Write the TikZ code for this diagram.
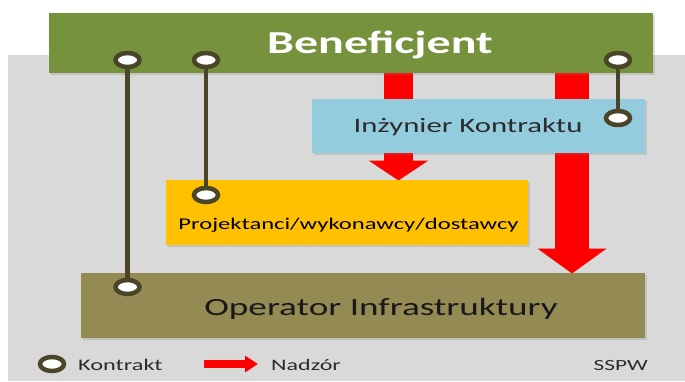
\documentclass[tikz,border=0pt]{standalone}
\usepackage{fontspec}
\setmainfont{Carlito}
\newfontfamily\widefont[FakeStretch=1.5]{Carlito}
\usetikzlibrary{shapes.geometric,arrows.meta,shadows}

\definecolor{bgrey}{HTML}{D9D9D9}
\definecolor{benefgreen}{HTML}{76923C}
\definecolor{engblue}{HTML}{93CDDD}
\definecolor{contryellow}{HTML}{FFC000}
\definecolor{operolive}{HTML}{948A54}
\definecolor{ringbrown}{HTML}{4A4528}
\definecolor{supred}{HTML}{FF0000}
\definecolor{labelgrey}{HTML}{2B2B2B}

\tikzset{
  box/.style={draw=none, inner sep=0, anchor=north west,
    drop shadow={shadow xshift=2pt, shadow yshift=-2pt, opacity=0.25}},
  ring/.style={ellipse, draw=ringbrown, line width=4.5pt, fill=white,
    minimum width=24pt, minimum height=14pt, inner sep=0},
  contract/.style={draw=ringbrown, line width=4.5pt},
  supervision/.style={draw=supred, line width=#1},
  boxtext/.style={inner sep=0, anchor=base, font=\widefont},
}

\begin{document}
\begin{tikzpicture}[x=1pt,y=-1pt]
  \useasboundingbox (0,0) rectangle (685,381);
  \fill[white] (0,0) rectangle (685,381);
  % grey panel
  \fill[bgrey] (8,55) rectangle (685,381);

  % supervision arrows (lie under the engineer box)
  \coordinate (a1s) at (398.5,72);
  \coordinate (a1e) at (398.5,180.5);
  \coordinate (a2s) at (572,72);
  \coordinate (a2e) at (572,273.5);
  \draw[supervision=29pt, -{Triangle[width=59pt,length=20pt]}] (a1s) -- (a1e);
  \draw[supervision=34pt, -{Triangle[width=68pt,length=25pt]}] (a2s) -- (a2e);

  % boxes
  \node[box, fill=benefgreen, minimum width=604pt, minimum height=60pt] (ben) at (49,12.5) {};
  \node[box, fill=engblue, minimum width=333pt, minimum height=54pt] (eng) at (312,99) {};
  \node[box, fill=contryellow, minimum width=362pt, minimum height=65pt] (yel) at (166,180) {};
  \node[box, fill=operolive, minimum width=564pt, minimum height=65pt] (ope) at (81,273) {};

  % box labels
  \node[boxtext, text=white, font=\widefont\bfseries\fontsize{32}{36}\selectfont] (tben) at (380,53) {Beneficjent};
  \node[boxtext, text=labelgrey, font=\widefont\fontsize{20.5}{24}\selectfont] (teng) at (468,132.5) {Inżynier Kontraktu};
  \node[boxtext, text=black, font=\widefont\fontsize{16.4}{20}\selectfont] (tyel) at (348.5,229) {Projektanci/wykonawcy/dostawcy};
  \node[boxtext, text=black!90, font=\widefont\fontsize{24.8}{28}\selectfont] (tope) at (381,315) {Operator Infrastruktury};

  % contract links
  \coordinate (k1a) at (127.5,60);
  \coordinate (k1b) at (127.5,287);
  \coordinate (k2a) at (206,60);
  \coordinate (k2b) at (206,195);
  \coordinate (k3a) at (618,60);
  \coordinate (k3b) at (618,118);
  \draw[contract] (k1a) -- (k1b);
  \draw[contract] (k2a) -- (k2b);
  \draw[contract] (k3a) -- (k3b);
  \foreach \k in {k1a,k1b,k2a,k2b,k3a,k3b}
    \node[ring] (r-\k) at (\k) {};

  % legend
  \node[ring] (lring) at (52,364) {};
  \node[inner sep=0, anchor=base west, text=labelgrey, font=\widefont\fontsize{16.2}{20}\selectfont] (lkon) at (78,370) {Kontrakt};
  \coordinate (la) at (204,364);
  \coordinate (lb) at (258,364);
  \draw[supervision=8pt, -{Triangle[width=16pt,length=13pt]}] (la) -- (lb);
  \node[inner sep=0, anchor=base west, text=labelgrey, font=\widefont\fontsize{16}{20}\selectfont] (lnad) at (271,370) {Nadzór};
  \node[inner sep=0, anchor=base east, text=labelgrey, font=\widefont\fontsize{15.5}{20}\selectfont] (lssp) at (648,370) {SSPW};
\end{tikzpicture}
\end{document}
